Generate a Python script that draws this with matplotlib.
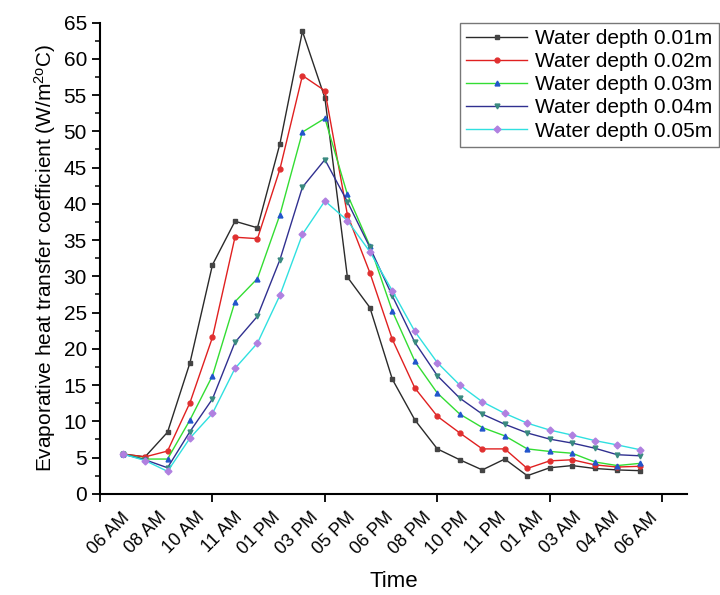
import numpy as np
import matplotlib.pyplot as plt
from matplotlib.ticker import MultipleLocator

plt.rcParams['font.family'] = ['Liberation Sans', 'DejaVu Sans']
plt.rcParams['mathtext.default'] = 'regular'

# hourly readings, index 1..24
hours = np.arange(1, 25)
d001 = [5.5, 5.1, 8.5, 18.1, 31.6, 37.6, 36.7, 48.3, 63.8, 54.6, 29.9, 25.7,
        15.8, 10.2, 6.2, 4.7, 3.3, 4.8, 2.5, 3.6, 3.9, 3.5, 3.3, 3.2]
d002 = [5.5, 5.1, 5.9, 12.6, 21.6, 35.4, 35.2, 44.8, 57.7, 55.6, 38.5, 30.5,
        21.3, 14.6, 10.7, 8.4, 6.2, 6.2, 3.5, 4.55, 4.7, 4.0, 3.7, 3.8]
d003 = [5.5, 4.8, 4.8, 10.2, 16.3, 26.5, 29.7, 38.5, 49.9, 51.8, 41.3, 34.2,
        25.2, 18.3, 13.9, 11.0, 9.15, 8.0, 6.2, 5.85, 5.6, 4.4, 3.9, 4.2]
d004 = [5.5, 4.7, 3.6, 8.6, 13.1, 20.9, 24.5, 32.3, 42.3, 46.1, 40.3, 34.0,
        27.3, 20.9, 16.3, 13.2, 11.0, 9.6, 8.4, 7.55, 7.0, 6.3, 5.4, 5.25]
d005 = [5.5, 4.6, 3.1, 7.7, 11.1, 17.3, 20.8, 27.4, 35.8, 40.4, 37.7, 33.4,
        28.0, 22.4, 18.1, 15.0, 12.7, 11.1, 9.75, 8.8, 8.1, 7.35, 6.75, 6.1]

time_labels = ['06 AM', '08 AM', '10 AM', '11 AM', '01 PM', '03 PM', '05 PM', '06 PM',
               '08 PM', '10 PM', '11 PM', '01 AM', '03 AM', '04 AM', '06 AM']

series = [
    (d001, 'Water depth 0.01m', '#2a2a2a', 's', '#444444'),
    (d002, 'Water depth 0.02m', '#e02020', 'o', '#e03030'),
    (d003, 'Water depth 0.03m', '#33dd33', '^', '#2255cc'),
    (d004, 'Water depth 0.04m', '#303090', 'v', '#3a8a80'),
    (d005, 'Water depth 0.05m', '#30e0e0', 'D', '#b080e0'),
]

fig = plt.figure(figsize=(7.2, 5.95), dpi=100)
ax = fig.add_axes([0.139, 0.170, 0.815, 0.792])

for vals, lab, c, m, mc in series:
    ax.plot(hours, vals, color=c, lw=1, marker=m, ms=3.5, mfc=mc, mec=mc, label=lab)

ax.set_xlim(0, 26.1)
ax.set_ylim(0, 65)
ax.yaxis.set_major_locator(MultipleLocator(5))
ax.yaxis.set_minor_locator(MultipleLocator(2.5))
ax.set_xticks([0, 5, 10, 15, 20, 25])
ax.set_xticklabels([])
ax.set_xticks(np.linspace(1.45, 24.93, 15), minor=True)
ax.set_xticklabels(time_labels, minor=True, rotation=45, ha='right', fontsize=13)
ax.tick_params(axis='x', which='minor', length=0, pad=11)
ax.tick_params(which='major', length=6, width=1.3, labelsize=15, direction='out')
ax.tick_params(axis='y', which='minor', length=3.5, width=1.1, direction='out')

for s in ['top', 'right']:
    ax.spines[s].set_visible(False)
for s in ['left', 'bottom']:
    ax.spines[s].set_linewidth(1.5)

ax.set_xlabel('Time', fontsize=16, labelpad=9)
ax.set_ylabel('Evaporative heat transfer coefficient (W/m$^{2o}$C)', fontsize=15)

leg = ax.legend(loc='upper right', bbox_to_anchor=(1.054, 1.0), fontsize=15, frameon=True,
                fancybox=False, edgecolor='#555555', handlelength=2.9, borderpad=0.3,
                labelspacing=0.2, handletextpad=0.4, borderaxespad=0)
leg.get_frame().set_linewidth(1)

fig.savefig('out.png', dpi=100)
